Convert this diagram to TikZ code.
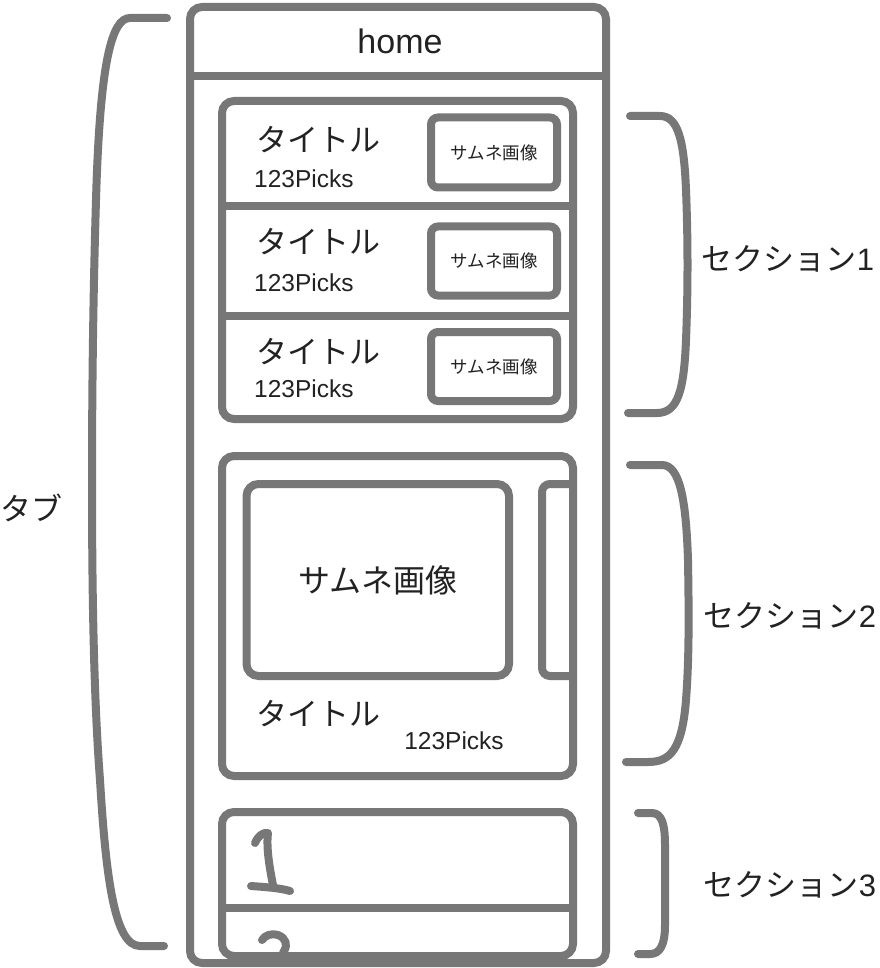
\documentclass[tikz,border=0pt]{standalone}
\usepackage{fontspec}
\newfontfamily\jp{Noto Sans CJK JP}
\newfontfamily\lat{Liberation Sans}
\definecolor{ln}{HTML}{777777}
\definecolor{tx}{HTML}{222222}
\begin{document}
\begin{tikzpicture}[x=1pt,y=-1pt,
  box/.style={draw=ln,line width=8pt,rounded corners=12pt},
  thumb/.style={draw=ln,line width=8pt,rounded corners=7pt,inner sep=0pt,text=tx},
  stroke/.style={draw=ln,line width=8pt,line cap=round,line join=round},
  divider/.style={draw=ln,line width=8pt},
  jbig/.style={text=tx,inner sep=0pt,font=\jp\fontsize{31}{36}\selectfont},
  jsmall/.style={font=\jp\fontsize{17.5}{20}\selectfont},
  jthumb/.style={font=\jp\fontsize{32}{36}\selectfont},
  picks/.style={text=tx,inner sep=0pt,font=\lat\fontsize{24.5}{28}\selectfont},
  hometxt/.style={text=tx,inner sep=0pt,font=\lat\fontsize{34}{38}\selectfont}
]
\useasboundingbox (0,0) rectangle (879,968);
\fill[white] (0,0) rectangle (879,968);

% handwritten 2 (partly hidden)
\draw[stroke] (262,940) .. controls (265,935) and (272,933) .. (278,935)
  .. controls (286,938) and (288,945) .. (284,951) -- (280,960);

% section 3
\draw[box] (222,812) rectangle (573,956);
\draw[divider] (222,908) -- (573,908);
% handwritten 1
\draw[stroke] (255,843) .. controls (258,836) and (263,832) .. (268,833)
  .. controls (266,848) and (270,870) .. (273,885);
\draw[stroke] (251,886) .. controls (265,887) and (280,888) .. (290,891);

% outer frame
\draw[box] (190,7) rectangle (606,963);
\draw[divider] (190,76) -- (606,76);
\node[hometxt] (home) at (400,41) {home};

% section 1
\draw[box] (222,101) rectangle (573,419);
\draw[divider] (222,206) -- (573,206);
\draw[divider] (222,316) -- (573,316);

\node[jbig] (t1) at (318,140) {タイトル};
\node[picks,anchor=west] (p1) at (254,179) {123Picks};
\node[thumb,jsmall,minimum width=126pt,minimum height=70pt] (th1) at (494,152.5) {サムネ画像};

\node[jbig] (t2) at (318,241.5) {タイトル};
\node[picks,anchor=west] (p2) at (254,283) {123Picks};
\node[thumb,jsmall,minimum width=126pt,minimum height=69pt] (th2) at (494,261) {サムネ画像};

\node[jbig] (t3) at (318,352) {タイトル};
\node[picks,anchor=west] (p3) at (254,388.5) {123Picks};
\node[thumb,jsmall,minimum width=126pt,minimum height=69pt] (th3) at (494,366.5) {サムネ画像};

% section 2
\draw[box] (222,456) rectangle (573,776);
\node[thumb,jthumb,rounded corners=12pt,minimum width=262.5pt,minimum height=192pt] (bigth) at (377.75,580) {サムネ画像};
\draw[divider,rounded corners=8pt] (573,484) -- (542,484) -- (542,676) -- (573,676);
\node[jbig] (t4) at (318,714) {タイトル};
\node[picks] (p4) at (454,741) {123Picks};

% left brace
\draw[stroke] (167,18) -- (130,18) .. controls (112,18) and (100,60) .. (96,200)
  .. controls (93,300) and (92,400) .. (92,480)
  .. controls (92,600) and (94,700) .. (100,780)
  .. controls (106,880) and (115,946) .. (140,946) -- (164,946);
\node[jbig] (tab) at (32,508) {タブ};

% right braces
\draw[stroke] (630,116) -- (660,116) .. controls (678,116) and (684,140) .. (686,190)
  .. controls (688,240) and (688,290) .. (686,340)
  .. controls (684,390) and (678,413) .. (657,413) -- (628,413);
\node[jbig] (s1) at (788,259) {セクション{\lat 1}};

\draw[stroke] (630,465) -- (662,465) .. controls (680,465) and (686,500) .. (688,560)
  .. controls (689,620) and (689,660) .. (686,700)
  .. controls (682,750) and (670,762) .. (648,762) -- (626,762);
\node[jbig] (s2) at (790,616) {セクション{\lat 2}};

\draw[stroke] (638,813) -- (652,813) .. controls (662,813) and (665,825) .. (665,845)
  -- (665,925) .. controls (665,945) and (660,954) .. (650,954) -- (638,954);
\node[jbig] (s3) at (790,885) {セクション{\lat 3}};
\end{tikzpicture}
\end{document}
